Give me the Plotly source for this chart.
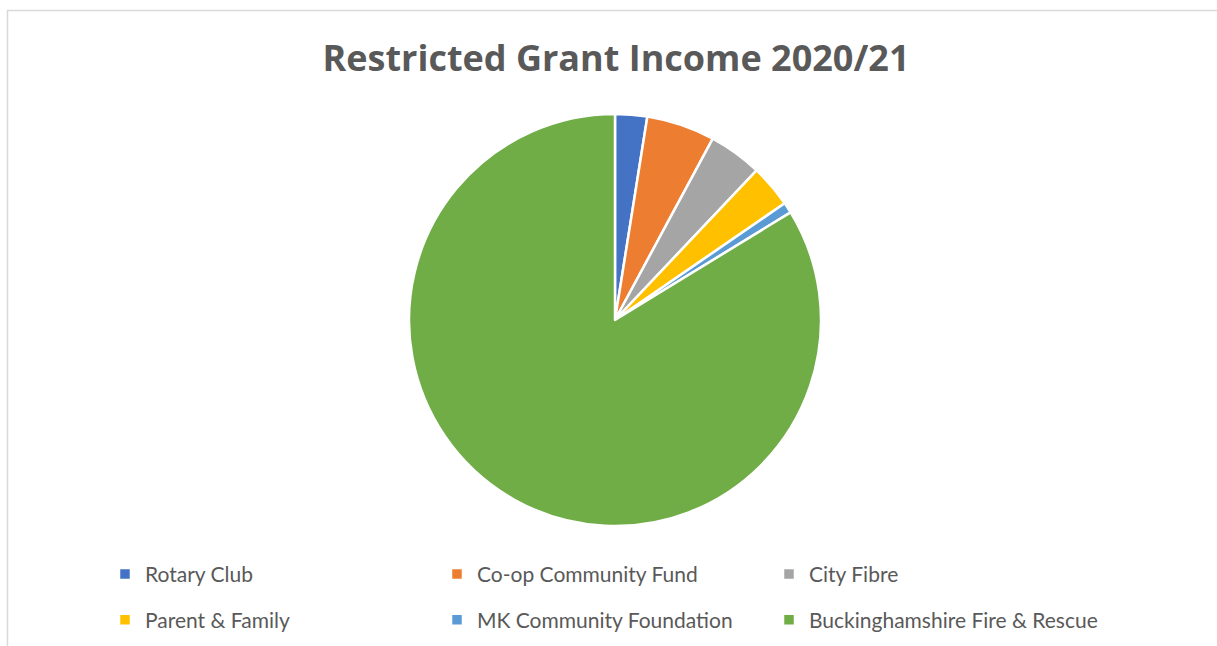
import plotly.graph_objects as go

W, H = 1217, 646

labels = ["Rotary Club", "Co-op Community Fund", "City Fibre",
          "Parent & Family", "MK Community Foundation",
          "Buckinghamshire Fire & Rescue"]
values = [750, 1600, 1250, 1000, 250, 25000]
colors = ["#4472C4", "#ED7D31", "#A5A5A5", "#FFC000", "#5B9BD5", "#70AD47"]

title_text = "Restricted Grant Income 2020/21"

# legend text shown at 21px while row height uses larger legend font size
legend_labels = ['<span style="font-size:21px;baseline-shift:5px">' + s + '</span>'
                 for s in labels]

fig = go.Figure()
fig.add_trace(go.Pie(
    labels=legend_labels,
    values=values,
    sort=False,
    direction="clockwise",
    rotation=0,
    textinfo="none",
    hoverinfo="label+value+percent",
    marker=dict(colors=colors, line=dict(color="white", width=2.5)),
    domain=dict(x=[409 / W, 821 / W], y=[1 - 527 / H, 1 - 113 / H]),
))

fig.update_layout(
    width=W, height=H,
    margin=dict(l=0, r=0, t=0, b=0, autoexpand=False),
    paper_bgcolor="white",
    plot_bgcolor="white",
    font=dict(family="Open Sans, sans-serif", color="#595959"),
    title=dict(
        text="<b>" + title_text + "</b>",
        x=616 / W, xanchor="center",
        y=1 - 58 / H, yanchor="middle",
        font=dict(family="Open Sans, sans-serif", size=36, color="#595959"),
    ),
    showlegend=True,
    legend=dict(
        orientation="h",
        x=105 / W, xanchor="left",
        y=1 - 546 / H, yanchor="top",
        entrywidth=287, entrywidthmode="pixels",
        font=dict(family="Lato, Open Sans, sans-serif", size=33, color="#595959"),
        itemclick=False, itemdoubleclick=False,
        bgcolor="rgba(0,0,0,0)",
    ),
    shapes=[
        dict(type="rect", xref="paper", yref="paper",
             x0=7.5 / W, x1=1.02, y0=-0.05, y1=1 - 10.5 / H,
             line=dict(color="#D9D9D9", width=1.5), fillcolor="rgba(0,0,0,0)",
             layer="below"),
    ],
)

fig.write_html("out.html", config={"displayModeBar": False},
               post_script="document.body.style.margin='0px';")
